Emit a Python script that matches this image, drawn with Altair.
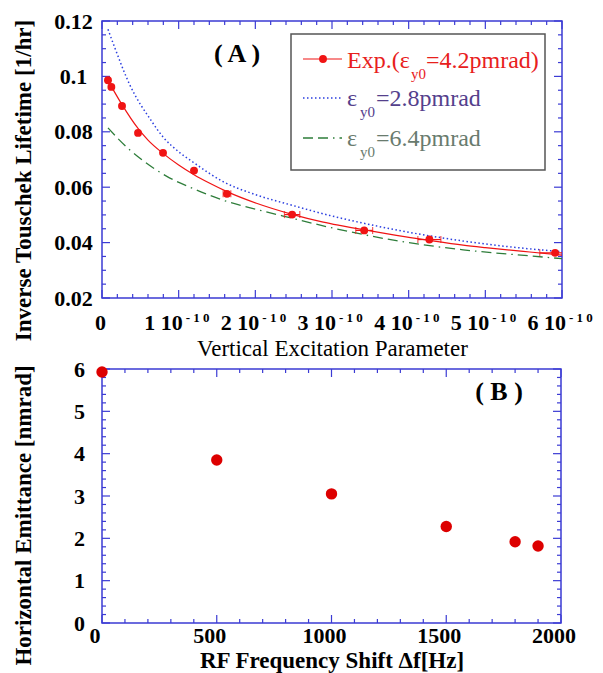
import altair as alt
import pandas as pd

# ---------------- Panel A data (x in units of 1e-10) ----------------
exp_x = [0.078, 0.122, 0.261, 0.47, 0.796, 1.20, 1.63, 2.48, 3.42, 4.27, 5.91]
exp_y = [0.0986, 0.0962, 0.0893, 0.0796, 0.0724, 0.0660, 0.0576, 0.0501, 0.0444, 0.0411, 0.0363]
exp_xerr = [0, 0, 0, 0, 0, 0, 0.05, 0.10, 0.11, 0.15, 0.20]

fit_x = [0.078, 0.122, 0.261, 0.47, 0.6, 0.796, 1.0, 1.2, 1.406, 1.63, 2.015, 2.48, 2.885,
         3.10, 3.5, 3.84, 4.27, 4.71, 5.0, 5.58, 6.0]
fit_y = [0.0986, 0.0964, 0.0898, 0.0812, 0.0770, 0.0722, 0.0680, 0.0645, 0.0614, 0.0584, 0.0542,
         0.0502, 0.0474, 0.0462, 0.0442, 0.0426, 0.0408, 0.0391, 0.0382, 0.0366, 0.0355]

blue_x = [0.078, 0.166, 0.36, 0.645, 0.8, 1.0, 1.2, 1.58, 2.015, 2.45, 2.97, 3.41, 4.28, 5.15, 6.0]
blue_y = [0.1170, 0.1104, 0.0971, 0.0839, 0.0780, 0.0728, 0.0688, 0.0620, 0.0572, 0.0537, 0.0498,
          0.0470, 0.0424, 0.0390, 0.0367]

green_x = [0.078, 0.36, 0.47, 0.84, 1.19, 1.58, 2.015, 2.45, 2.97, 3.84, 4.71, 5.58, 6.0]
green_y = [0.0814, 0.0735, 0.0710, 0.0640, 0.0595, 0.0553, 0.0520, 0.0490, 0.0455, 0.0407, 0.0374,
           0.0352, 0.0342]

xa_ticks = [0, 1, 2, 3, 4, 5, 6]
xa_labels = ["0", "1 10", "2 10", "3 10", "4 10", "5 10", "6 10"]
ya_ticks = [0.02, 0.04, 0.06, 0.08, 0.10, 0.12]

# ---------------- Panel B data ----------------
b_x = [0, 500, 1000, 1500, 1800, 1900]
b_y = [5.93, 3.85, 3.05, 2.28, 1.92, 1.82]
xb_ticks = [0, 500, 1000, 1500, 2000]
xb_labels = ["0", "500", "1000", "1500", "2000"]
yb_ticks = [0, 1, 2, 3, 4, 5, 6]

# ---------------- style ----------------
FONT = "Liberation Serif"
AXIS_BLUE = "#3b3bd4"
RED = "#f01414"
WA, HA = 460, 277
WB, HB = 459, 254

xa_minor = [round(i * 0.2, 4) for i in range(31) if i % 5]
ya_minor = [round(0.02 + i * 0.005, 4) for i in range(21) if i % 4]
xb_minor = [i * 100 for i in range(21) if i % 5]
yb_minor = [round(i * 0.2, 4) for i in range(31) if i % 5]

xa_scale = alt.Scale(domain=[0, 6], nice=False, zero=False)
ya_scale = alt.Scale(domain=[0.02, 0.12], nice=False, zero=False)
xb_scale = alt.Scale(domain=[0, 2000], nice=False, zero=False)
yb_scale = alt.Scale(domain=[0, 6], nice=False, zero=False)

xa_axis = alt.Axis(title="Vertical Excitation Parameter", labels=False, ticks=False, tickSize=0,
                   domain=False, grid=False, titleFontWeight="normal", titleFontSize=23,
                   titleY=57, titleBaseline="alphabetic")
ya_axis = alt.Axis(title="Inverse Touschek Lifetime [1/hr]", values=ya_ticks, format=".2~f",
                   ticks=False, tickSize=0, domain=False, grid=False, labelAlign="center",
                   labelBaseline="middle", labelPadding=29, titleX=-67, titleY=159,
                   titleBaseline="bottom", titleAlign="center", titleFontWeight="bold")
xb_axis = alt.Axis(title="RF Frequency Shift Δf[Hz]", labels=False,
                   ticks=False, tickSize=0, domain=False, grid=False,
                   titleY=44, titleBaseline="alphabetic", titleFontWeight="bold")
yb_axis = alt.Axis(title="Horizontal Emittance [nmrad]", values=yb_ticks, format="d",
                   ticks=False, tickSize=0, domain=False, grid=False, labelAlign="center",
                   labelBaseline="middle", labelPadding=23, titleX=-67, titleY=146,
                   titleBaseline="bottom", titleAlign="center", titleFontWeight="bold")


def XA(f):
    return alt.X(f, type="quantitative", scale=xa_scale, axis=xa_axis)


def YA(f):
    return alt.Y(f, type="quantitative", scale=ya_scale, axis=ya_axis)


def XB(f):
    return alt.X(f, type="quantitative", scale=xb_scale, axis=xb_axis)


def YB(f):
    return alt.Y(f, type="quantitative", scale=yb_scale, axis=yb_axis)


def frame_ticks(X, Y, xmaj, xmin, ymaj, ymin, W, H):
    out = []
    for vals, ln in ((xmaj, 8), (xmin, 4)):
        base = alt.Chart(pd.DataFrame({"v": vals})).mark_rule(color=AXIS_BLUE, strokeWidth=1.2)
        out.append(base.encode(x=X("v"), y=alt.value(H), y2=alt.value(H - ln)))
        out.append(base.encode(x=X("v"), y=alt.value(0), y2=alt.value(ln)))
    for vals, ln in ((ymaj, 8), (ymin, 4)):
        base = alt.Chart(pd.DataFrame({"v": vals})).mark_rule(color=AXIS_BLUE, strokeWidth=1.2)
        out.append(base.encode(y=Y("v"), x=alt.value(0), x2=alt.value(ln)))
        out.append(base.encode(y=Y("v"), x=alt.value(W), x2=alt.value(W - ln)))
    return out


one = pd.DataFrame({"k": [0]})

# ---------------- Panel A ----------------
a_layers = frame_ticks(XA, YA, xa_ticks, xa_minor, ya_ticks, ya_minor, WA, HA)

green_line = alt.Chart(pd.DataFrame({"x": green_x, "y": green_y})).mark_line(
    color="#2e7d3a", strokeWidth=1.3, strokeDash=[10, 5, 10, 5, 1.5, 5], interpolate="monotone"
).encode(x=XA("x"), y=YA("y"))
blue_line = alt.Chart(pd.DataFrame({"x": blue_x, "y": blue_y})).mark_line(
    color="#2b3fe0", strokeWidth=1.5, strokeDash=[1.5, 2.5], interpolate="monotone"
).encode(x=XA("x"), y=YA("y"))
red_line = alt.Chart(pd.DataFrame({"x": fit_x, "y": fit_y})).mark_line(
    color=RED, strokeWidth=1.2, interpolate="monotone"
).encode(x=XA("x"), y=YA("y"))

err = pd.DataFrame({"x": exp_x, "y": exp_y, "e": exp_xerr})
err = err[err["e"] > 0].copy()
err["lo"] = err["x"] - err["e"]
err["hi"] = err["x"] + err["e"]
err_rule = alt.Chart(err).mark_rule(color=RED, strokeWidth=1.2, clip=True).encode(
    x=XA("lo"), x2=alt.X2("hi"), y=YA("y"))
err_lo = alt.Chart(err).mark_tick(color=RED, orient="vertical", size=7, thickness=1.2,
                                  clip=True).encode(x=XA("lo"), y=YA("y"))
err_hi = alt.Chart(err).mark_tick(color=RED, orient="vertical", size=7, thickness=1.2,
                                  clip=True).encode(x=XA("hi"), y=YA("y"))

pts_a = alt.Chart(pd.DataFrame({"x": exp_x, "y": exp_y})).mark_circle(
    color=RED, size=62, opacity=1).encode(x=XA("x"), y=YA("y"))

xlab_main = alt.Chart(pd.DataFrame({"v": xa_ticks, "t": xa_labels})).mark_text(
    align="right", baseline="alphabetic", dx=4, font=FONT, fontWeight="bold", fontSize=22,
    color="black").encode(x=XA("v"), y=alt.value(HA + 32), text="t:N")
xlab_sup = alt.Chart(pd.DataFrame({"v": xa_ticks[1:]})).mark_text(
    align="left", baseline="alphabetic", dx=7, font=FONT, fontWeight="bold", fontSize=13,
    color="black", text="- 1 0").encode(x=XA("v"), y=alt.value(HA + 24))

tag_a = alt.Chart(one).mark_text(text="( A )", font=FONT, fontWeight="bold", fontSize=26,
                                 align="center", baseline="middle", color="black").encode(
    x=alt.value(135), y=alt.value(33))

leg_box = alt.Chart(one).mark_rect(fill="white", stroke="#555555", strokeWidth=1.5).encode(
    x=alt.value(189), x2=alt.value(443), y=alt.value(13), y2=alt.value(149))
leg_l1 = alt.Chart(one).mark_rule(color=RED, strokeWidth=1.2).encode(
    x=alt.value(201), x2=alt.value(240), y=alt.value(38))
leg_p1 = alt.Chart(one).mark_circle(color=RED, size=62, opacity=1).encode(
    x=alt.value(221), y=alt.value(38))
leg_l2 = alt.Chart(one).mark_rule(color="#2b3fe0", strokeWidth=1.5, strokeDash=[1.5, 2.5]).encode(
    x=alt.value(201), x2=alt.value(240), y=alt.value(77))
leg_l3 = alt.Chart(one).mark_rule(color="#2e7d3a", strokeWidth=1.3,
                                  strokeDash=[10, 5, 10, 5, 1.5, 5]).encode(
    x=alt.value(201), x2=alt.value(240), y=alt.value(117))


def ltxt(s, x, y, size, color):
    return alt.Chart(one).mark_text(text=s, font=FONT, fontSize=size, align="left",
                                    baseline="alphabetic", color=color).encode(
        x=alt.value(x), y=alt.value(y))


C1, C2, C3 = "#e8201c", "#54408c", "#697b6e"
leg_txt = [
    ltxt("Exp.(ε", 245, 47, 24, C1), ltxt("y0", 309, 58, 15, C1), ltxt("=4.2pmrad)", 324, 47, 24, C1),
    ltxt("ε", 245, 85, 24, C2), ltxt("y0", 258, 96, 15, C2), ltxt("=2.8pmrad", 274, 85, 24, C2),
    ltxt("ε", 245, 125, 24, C3), ltxt("y0", 258, 136, 15, C3), ltxt("=6.4pmrad", 274, 125, 24, C3),
]

panel_a = alt.layer(
    *a_layers, green_line, blue_line, red_line, err_rule, err_lo, err_hi, pts_a,
    xlab_main, xlab_sup, tag_a, leg_box, leg_l1, leg_p1, leg_l2, leg_l3, *leg_txt
).properties(width=WA, height=HA)

# ---------------- Panel B ----------------
b_layers = frame_ticks(XB, YB, xb_ticks, xb_minor, yb_ticks, yb_minor, WB, HB)
pts_b = alt.Chart(pd.DataFrame({"x": b_x, "y": b_y})).mark_circle(
    color="#dd0000", size=130, opacity=1).encode(x=XB("x"), y=YB("y"))
xlab_b = alt.Chart(pd.DataFrame({"v": xb_ticks, "t": xb_labels})).mark_text(
    align="center", baseline="alphabetic", dx=-7, font=FONT, fontWeight="bold", fontSize=22,
    color="black").encode(x=XB("v"), y=alt.value(HB + 20), text="t:N")
tag_b = alt.Chart(one).mark_text(text="( B )", font=FONT, fontWeight="bold", fontSize=26,
                                 align="center", baseline="middle", color="black").encode(
    x=alt.value(397), y=alt.value(23))

panel_b = alt.layer(*b_layers, pts_b, xlab_b, tag_b).properties(width=WB, height=HB)

chart = alt.vconcat(panel_a, panel_b, spacing=-4).properties(
    padding={"left": 3, "top": 1, "right": 0, "bottom": 0}
).configure_view(
    stroke=AXIS_BLUE, strokeWidth=1.5
).configure_axis(
    labelFont=FONT, labelFontWeight="bold", labelFontSize=22, labelColor="black",
    titleFont=FONT, titleColor="black", titleFontSize=23, labelOverlap=False
)

chart.save("out.html", embed_options={"renderer": "svg", "actions": False})
